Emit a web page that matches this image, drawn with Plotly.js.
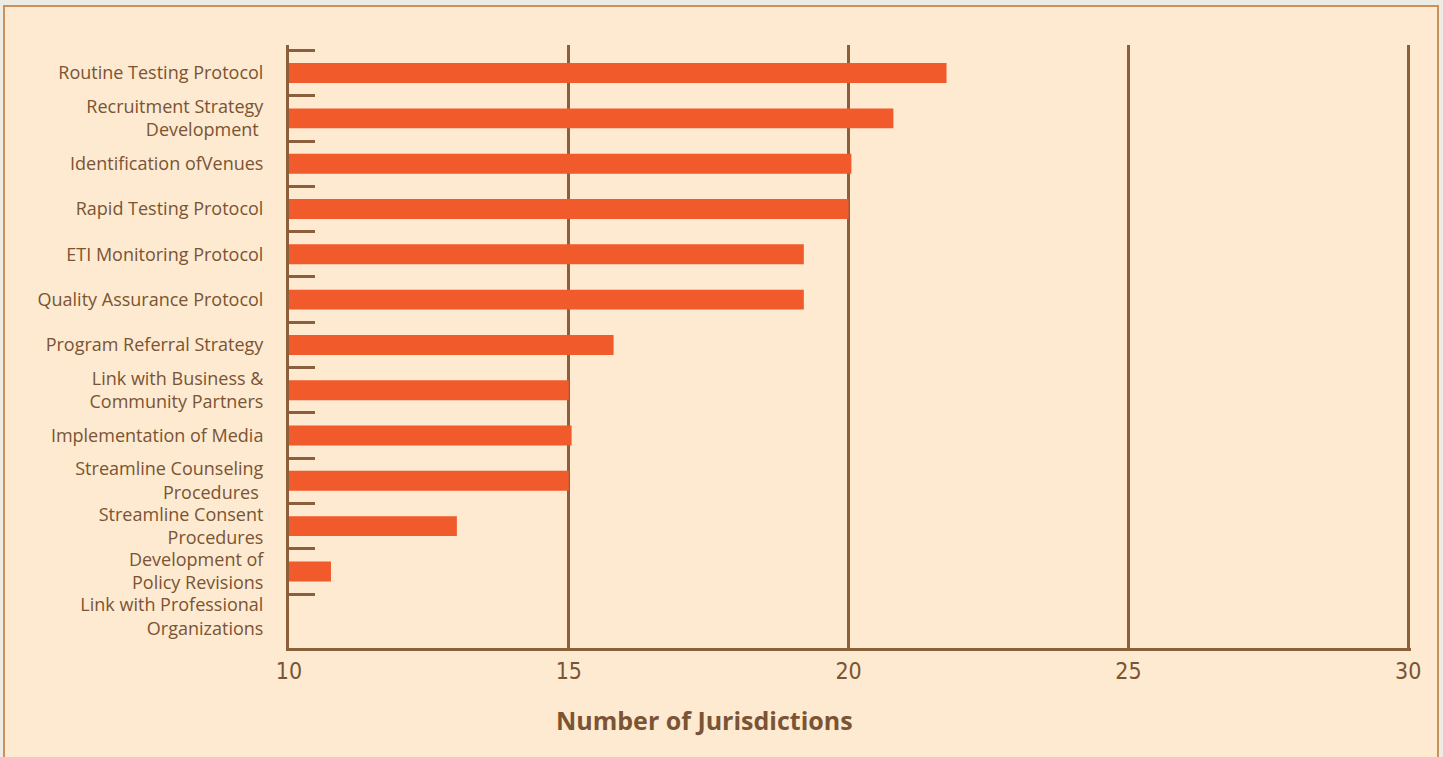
<!DOCTYPE html>
<html>
<head>
<meta charset="utf-8">
<script src="https://cdn.plot.ly/plotly-3.0.1.min.js"></script>
<style>
  html, body { margin: 0; padding: 0; background: #EEEBE5; overflow: hidden; }
  #chart { position: absolute; left: 0; top: 0; width: 1443px; height: 757px; }
  #frame { position: absolute; left: 3px; top: 5px; width: 1436px; height: 770px;
           border: 2px solid #C8925A; box-sizing: border-box; pointer-events: none;
           box-shadow: 0 0 0 12px #EEEBE5; }
</style>
</head>
<body>
<div id="chart"></div>
<div id="frame"></div>
<script>
const categories = [
  "Routine Testing Protocol",
  "Recruitment Strategy<br>Development ",
  "Identification ofVenues",
  "Rapid Testing Protocol",
  "ETI Monitoring Protocol",
  "Quality Assurance Protocol",
  "Program Referral Strategy",
  "Link with Business &<br>Community Partners",
  "Implementation of Media",
  "Streamline Counseling<br>Procedures ",
  "Streamline Consent<br>Procedures",
  "Development of<br>Policy Revisions",
  "Link with Professional<br>Organizations"
];
const values = [21.75, 20.8, 20.05, 20.0, 19.2, 19.2, 15.8, 15.0, 15.05, 15.0, 13.0, 10.75, 10.0];
const xTicks = [10, 15, 20, 25, 30];
const axisTitle = "Number of Jurisdictions";

const brown = "#8B5E3C";
const textBrown = "#7A5434";

const trace = {
  type: "bar",
  orientation: "h",
  y: categories,
  x: values,
  base: 0,
  width: 0.44,
  marker: { color: "#F15A2B", line: { width: 0 } },
  hoverinfo: "x+y"
};

const layout = {
  width: 1443,
  height: 757,
  margin: { l: 289, r: 32, t: 45, b: 109 },
  paper_bgcolor: "#FDEAD0",
  plot_bgcolor: "#FDEAD0",
  showlegend: false,
  font: { family: "'Open Sans', Lato, sans-serif", color: textBrown },
  xaxis: {
    range: [10, 30.05],
    tickvals: xTicks,
    ticktext: xTicks.map(String),
    showgrid: true,
    gridcolor: brown,
    gridwidth: 3,
    zeroline: false,
    showline: true,
    linecolor: brown,
    linewidth: 3,
    ticks: "",
    ticklabelstandoff: 0,
    tickfont: { size: 23, family: "'DejaVu Sans Condensed', 'Open Sans', sans-serif", color: textBrown },
    fixedrange: true
  },
  yaxis: {
    type: "category",
    range: [12.69, -0.62],
    showgrid: false,
    zeroline: false,
    showline: true,
    linecolor: brown,
    linewidth: 3,
    ticks: "inside",
    tickson: "boundaries",
    ticklen: 26,
    tickwidth: 3,
    tickcolor: brown,
    ticklabelstandoff: 19,
    tickfont: { size: 18, family: "'Open Sans', Lato, sans-serif", color: textBrown },
    fixedrange: true
  },
  annotations: [{
    text: "<b>" + axisTitle + "</b>",
    xref: "paper", yref: "paper",
    x: 0.37, y: -0.088,
    xanchor: "center", yanchor: "top",
    showarrow: false,
    font: { size: 25, family: "'Open Sans', Lato, sans-serif", color: textBrown }
  }]
};

Plotly.newPlot("chart", [trace], layout, { displayModeBar: false, staticPlot: true });
</script>
</body>
</html>
